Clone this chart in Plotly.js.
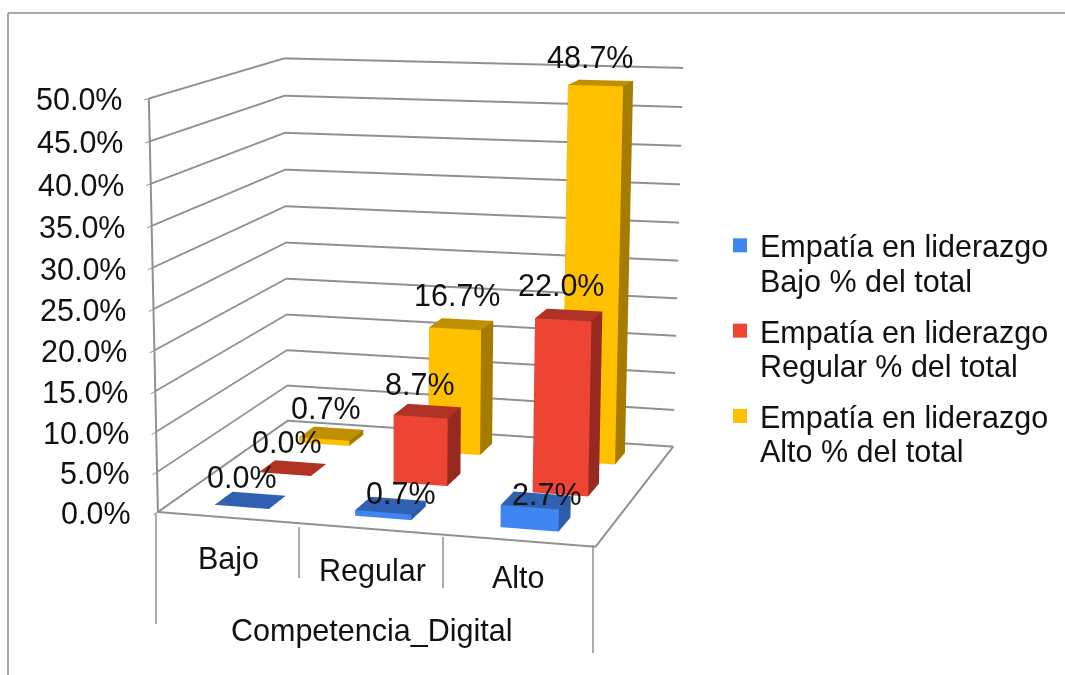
<!DOCTYPE html>
<html><head><meta charset="utf-8">
<script src="https://cdn.plot.ly/plotly-3.0.1.min.js"></script>
<style>html,body{margin:0;padding:0;background:#fff;width:1065px;height:675px;overflow:hidden}
#plot{position:absolute;left:-786px;top:-639px}</style></head>
<body><div id="plot"></div>
<script>
const categories = ["Bajo","Regular","Alto"];
const seriesNames = ["Empatía en liderazgo<br>Bajo % del total","Empatía en liderazgo<br>Regular % del total","Empatía en liderazgo<br>Alto % del total"];
const bajo = [0.0,0.7,2.7];
const regular = [0.0,8.7,22.0];
const alto = [0.7,16.7,48.7];
const axisTitle = "Competencia_Digital";
const zTicks = [0,5,10,15,20,25,30,35,40,45,50];

const W=2200,H=2172,L=786,T=639;
const px=x=>(x+L)/W, py=y=>1-(y+T)/H;
const FONT={family:'"Liberation Sans",Arial,sans-serif',size:30.5,color:'#111'};
const GRID='#909090';
const palette=[{f:'#3f85f2',t:'#2f62b3',s:'#2c5ca6'},{f:'#ee4433',t:'#b03225',s:'#962a20'},{f:'#ffc000',t:'#c09000',s:'#a67c00'}];
const all=[bajo,regular,alto];
const labelNudge=[[[-8,3],[10,14],[11,20]],[[-6,0],[-7,-1],[-8,-4]],[[-5,0],[-4,-3],[-11,0]]];
const BW=0.39;
const traces=[];
function boxFaces(ci,si,v,c){
  const x0=ci+.5-BW/2,x1=ci+.5+BW/2,y0=si+.5-BW/2,y1=si+.5+BW/2;
  const X=[x0,x1,x1,x0,x0,x1,x1,x0],Y=[y0,y0,y1,y1,y0,y0,y1,y1],Z=[0,0,0,0,v,v,v,v];
  traces.push({type:'mesh3d',x:X,y:Y,z:Z,
    i:[0,0, 1,1, 4,4, 3,3, 0,0, 0,0],
    j:[1,2, 2,6, 5,6, 2,6, 3,7, 1,5],
    k:[2,3, 6,5, 6,7, 6,7, 7,4, 5,4],
    facecolor:[c.t,c.t, c.s,c.s, c.t,c.t, c.s,c.s, c.s,c.s, c.f,c.f],
    flatshading:true,lighting:{ambient:1,diffuse:0,specular:0,fresnel:0,roughness:1},hoverinfo:'skip',showscale:false,showlegend:false});
}
all.forEach((vals,si)=>vals.forEach((v,ci)=>boxFaces(ci,si,v,palette[si])));
traces.push({type:'scatter3d',mode:'lines',x:[0,3,3,0,0,0],y:[0,0,3,3,0,0],z:[0,0,0,0,0,50],line:{color:GRID,width:4},hoverinfo:'skip',showlegend:false});
seriesNames.forEach((n,si)=>traces.push({type:'scatter3d',mode:'markers',x:[null],y:[null],z:[null],name:n,legendgroup:'g'+si,marker:{symbol:'square',size:14,color:palette[si].f},hoverinfo:'skip'}));

const sceneAnn=[];
zTicks.forEach(v=>sceneAnn.push({x:0,y:0,z:v,text:v.toFixed(1)+'%',showarrow:false,xanchor:'right',yanchor:'middle',xshift:-25,yshift:-1,font:FONT}));
all.forEach((vals,si)=>vals.forEach((v,ci)=>sceneAnn.push({x:ci+.5,y:si+.5,z:v,text:v.toFixed(1)+'%',showarrow:false,xanchor:'center',yanchor:'middle',xshift:labelNudge[si][ci][0],yshift:26-labelNudge[si][ci][1],font:FONT})));

const ax={showgrid:false,showticklabels:false,ticks:'',showline:false,zeroline:false,showbackground:false,showspikes:false,title:{text:''}};
const layout={width:W,height:H,margin:{l:0,r:0,t:0,b:0,pad:0},paper_bgcolor:'#fff',font:FONT,
 scene:{domain:{x:[0,1],y:[0,1]},aspectmode:'manual',aspectratio:{x:1.035,y:0.96,z:0.96},hovermode:false,dragmode:'orbit',
  xaxis:{...ax,range:[0,3]},yaxis:{...ax,range:[0,3]},
  zaxis:{...ax,range:[0,50],tick0:0,dtick:5,showgrid:true,gridcolor:GRID,gridwidth:4,ticks:'outside',ticklen:8,tickcolor:GRID,tickwidth:2},
  camera:{projection:{type:'perspective'},up:{x:0.0066,y:0.0021,z:1},eye:{x:1.637,y:-5.973,z:1.129},center:{x:-.233,y:-.175,z:-.377}},
  annotations:sceneAnn},
 legend:{x:px(720),y:py(219),xanchor:'left',yanchor:'top',valign:'top',font:FONT,tracegroupgap:3,bgcolor:'rgba(0,0,0,0)'},
 annotations:[
  {xref:'paper',yref:'paper',x:px(228),y:py(558),text:categories[0],showarrow:false,font:FONT},
  {xref:'paper',yref:'paper',x:px(372),y:py(570),text:categories[1],showarrow:false,font:FONT},
  {xref:'paper',yref:'paper',x:px(518),y:py(577),text:categories[2],showarrow:false,font:FONT},
  {xref:'paper',yref:'paper',x:px(371),y:py(630),text:axisTitle,showarrow:false,font:FONT}],
 shapes:[[8,13,1065,13,'#8c8c8c'],[8,13,8,675,'#8c8c8c'],[156,513,156,624,GRID],[299,527,299,578,GRID],[443,537,443,588,GRID],[593,545,593,653,GRID]].map(a=>({type:'line',xref:'paper',yref:'paper',x0:px(a[0]),y0:py(a[1]),x1:px(a[2]),y1:py(a[3]),line:{color:a[4],width:1.5}}))
};
Plotly.newPlot('plot',traces,layout,{displayModeBar:false}).then(()=>{
  document.querySelectorAll('.legendtext .line').forEach(t=>{if(t.getAttribute('dy')&&t.getAttribute('dy')!=='0em')t.setAttribute('dy','1.13em');});
});
</script></body></html>
